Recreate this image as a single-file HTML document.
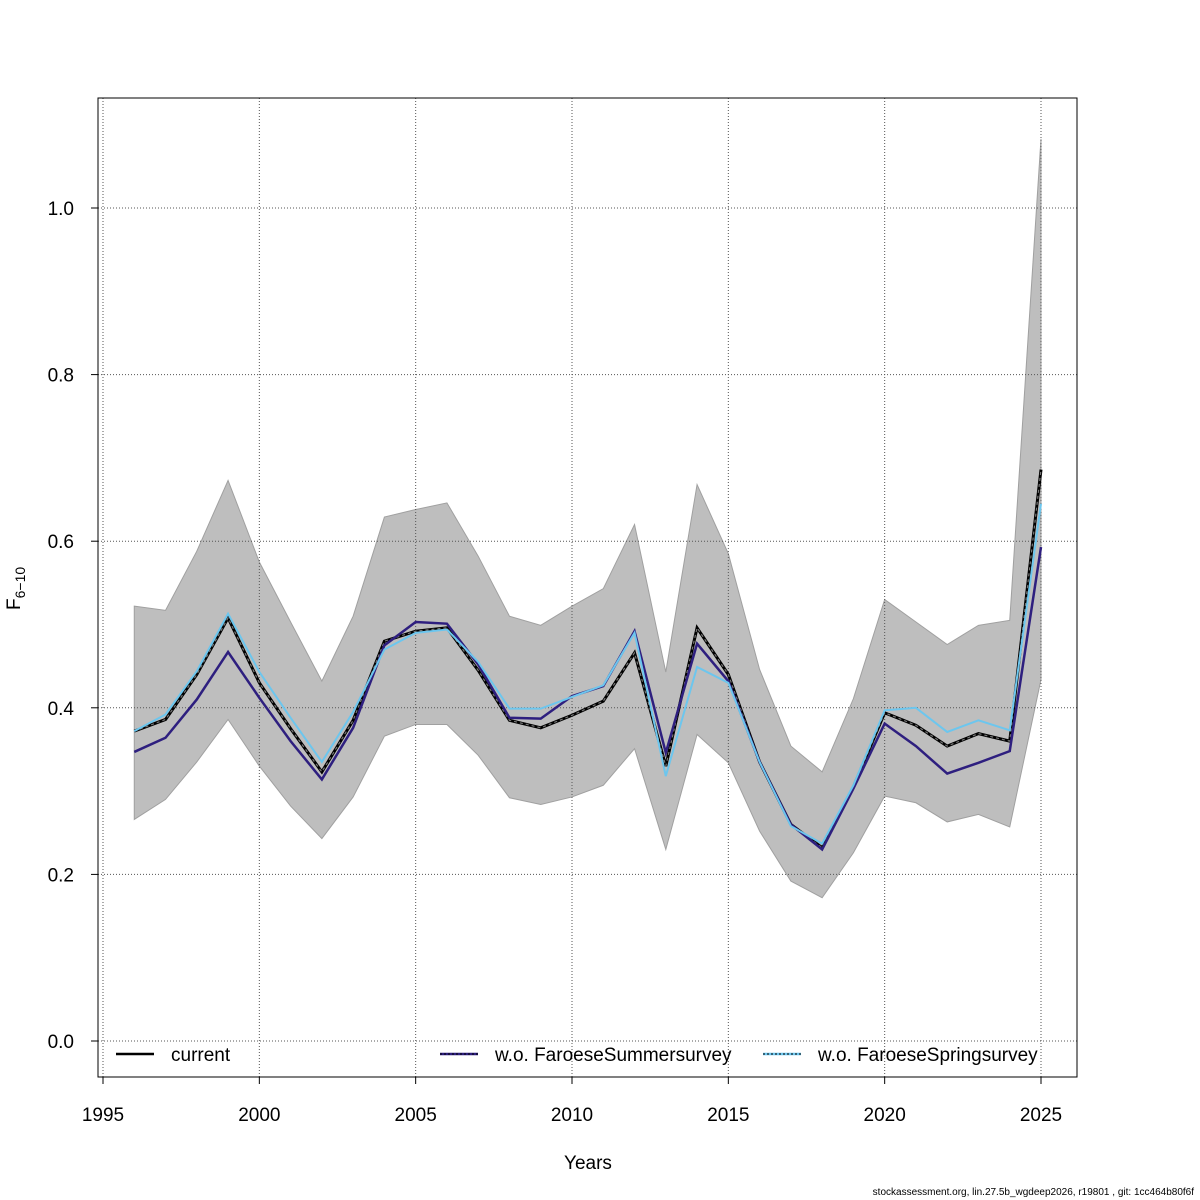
<!DOCTYPE html>
<html><head><meta charset="utf-8"><style>
body{margin:0;background:#fff}
svg{display:block;font-family:"Liberation Sans",sans-serif}
</style></head><body>
<svg id="chart" width="1200" height="1200" viewBox="0 0 1200 1200"></svg>
<script>
const years=[1996,1997,1998,1999,2000,2001,2002,2003,2004,2005,2006,2007,2008,2009,2010,2011,2012,2013,2014,2015,2016,2017,2018,2019,2020,2021,2022,2023,2024,2025];
const current=[0.372,0.386,0.44,0.508,0.43,0.375,0.323,0.385,0.48,0.492,0.496,0.445,0.385,0.376,0.391,0.408,0.466,0.33,0.496,0.44,0.335,0.26,0.232,0.305,0.394,0.379,0.354,0.369,0.36,0.686];
const summer=[0.347,0.364,0.41,0.467,0.412,0.36,0.314,0.376,0.475,0.503,0.501,0.452,0.388,0.387,0.414,0.426,0.492,0.346,0.477,0.432,0.335,0.26,0.23,0.303,0.381,0.354,0.321,0.334,0.348,0.593];
const spring=[0.372,0.392,0.444,0.513,0.443,0.388,0.335,0.395,0.47,0.49,0.494,0.455,0.399,0.399,0.413,0.427,0.49,0.318,0.449,0.43,0.335,0.258,0.237,0.307,0.397,0.4,0.371,0.385,0.373,0.645];
const upper=[0.522,0.517,0.588,0.673,0.575,0.503,0.432,0.51,0.629,0.638,0.646,0.582,0.51,0.499,0.522,0.543,0.62,0.443,0.668,0.585,0.446,0.354,0.323,0.411,0.53,0.503,0.476,0.499,0.505,1.083];
const lower=[0.266,0.29,0.335,0.386,0.33,0.282,0.243,0.293,0.366,0.38,0.38,0.343,0.292,0.284,0.293,0.307,0.351,0.23,0.368,0.334,0.252,0.192,0.172,0.226,0.294,0.286,0.263,0.272,0.257,0.434];
const xTicks=[1995,2000,2005,2010,2015,2020,2025];
const yTicks=[0,0.2,0.4,0.6,0.8,1.0];

const svg=document.getElementById('chart');
const NS='http://www.w3.org/2000/svg';
const X=v=>103+(v-1995)*(938/30);
const Y=v=>1041-v*833;
function mk(tag,attrs,parent){const e=document.createElementNS(NS,tag);for(const k in attrs)e.setAttribute(k,attrs[k]);(parent||svg).appendChild(e);return e;}

let pts=years.map((y,i)=>X(y)+','+Y(upper[i])).concat(years.map((y,i)=>X(y)+','+Y(lower[i])).reverse());
const band=mk('polygon',{points:pts.join(' '),fill:'#bebebe',stroke:'#a0a0a0','stroke-width':1});



xTicks.forEach(t=>{const g=mk('line',{x1:X(t),x2:X(t),y1:98,y2:1077,stroke:'#555','stroke-width':1,'stroke-dasharray':'1,2'});

});
yTicks.forEach(t=>{const g=mk('line',{x1:98,x2:1077,y1:Y(t),y2:Y(t),stroke:'#555','stroke-width':1,'stroke-dasharray':'1,2'});

});

function line(vals,color,w,dash,name){const l=mk('polyline',{points:years.map((y,i)=>X(y)+','+Y(vals[i])).join(' '),fill:'none',stroke:color,'stroke-width':w,'stroke-dasharray':dash||'none'});

}
line(current,'#000',3,null,'current-line-base');
line(current,'#777',1.2,'3,3','current-line');
line(summer,'#2e1f7f',2.5,null,'summer-line');
line(spring,'#6cc6ee',2,null,'spring-line');

const fr=mk('rect',{x:98,y:98,width:979,height:979,fill:'none',stroke:'#000','stroke-width':1});



const xa=mk('line',{x1:X(1995),x2:X(2025),y1:1077,y2:1077,stroke:'#000'});


xTicks.forEach(t=>{mk('line',{x1:X(t),x2:X(t),y1:1077,y2:1084,stroke:'#000'});
const tx=mk('text',{x:X(t),y:1121,'text-anchor':'middle','font-size':19});tx.textContent=t;

});
yTicks.forEach(t=>{mk('line',{x1:91,x2:98,y1:Y(t),y2:Y(t),stroke:'#000'});
const tx=mk('text',{x:74,y:Y(t)+7,'text-anchor':'end','font-size':19});tx.textContent=t.toFixed(1);

});

const xt=mk('text',{x:588,y:1169,'text-anchor':'middle','font-size':19});xt.textContent='Years';


const yt=mk('text',{x:0,y:0,'font-size':19,transform:'translate(20,610) rotate(-90)'});
yt.innerHTML='F<tspan font-size="14" dy="5">6−10</tspan>';



function leg(x,label,color,w,name){const g=mk('g',{});


mk('line',{x1:x,x2:x+38,y1:1054,y2:1054,stroke:color,'stroke-width':w},g);
if(color!=='#000')mk('line',{x1:x,x2:x+38,y1:1054,y2:1054,stroke:'#000','stroke-width':1,'stroke-dasharray':'2,2'},g);
const t=mk('text',{x:x+55,y:1061,'font-size':19},g);t.textContent=label;}
leg(116,'current','#000',2.5,'legend-current');
leg(440,'w.o. FaroeseSummersurvey','#2e1f7f',2.5,'legend-summer');
leg(763,'w.o. FaroeseSpringsurvey','#6cc6ee',2.5,'legend-spring');

const ft=mk('text',{x:1194,y:1195,'text-anchor':'end','font-size':10});ft.textContent='stockassessment.org, lin.27.5b_wgdeep2026, r19801 , git: 1cc464b80f6f';


</script>
</body></html>
